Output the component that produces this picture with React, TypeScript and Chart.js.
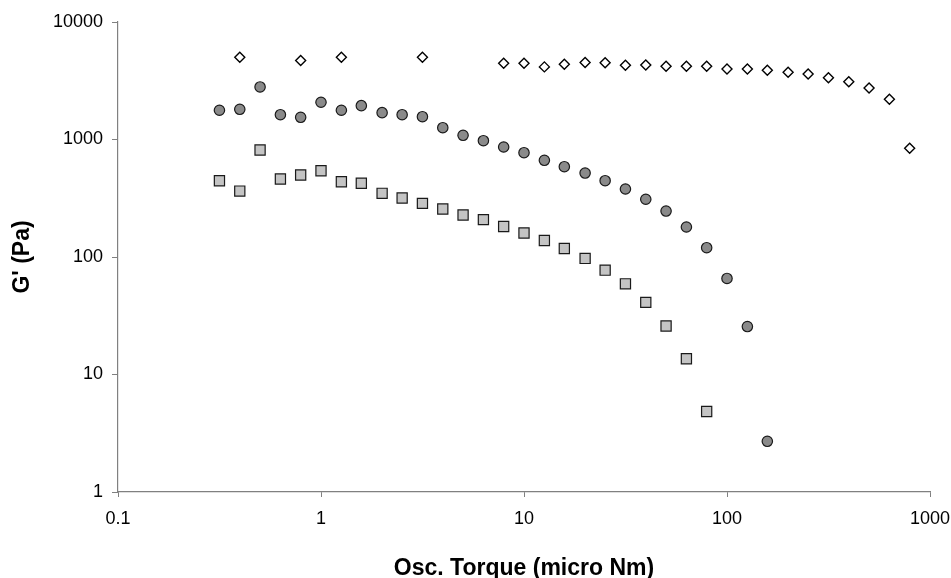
import React, { useEffect, useRef } from "react";
import { Chart, registerables } from "chart.js";

Chart.register(...registerables);

// Osc. torque (micro Nm) for each series
const circleTorque = [0.316, 0.398, 0.501, 0.631, 0.794, 1, 1.26, 1.58, 2, 2.51, 3.16, 3.98, 5.01, 6.31, 7.94, 10, 12.6, 15.8, 20, 25.1, 31.6, 39.8, 50.1, 63.1, 79.4, 100, 126, 158];
const circleG = [1774, 1808, 2800, 1626, 1545, 2075, 1774, 1941, 1692, 1626, 1563, 1260, 1086, 977, 863, 772, 665, 587, 518, 446, 379, 310, 246, 180, 120, 65.7, 25.6, 2.7];

const squareTorque = [0.316, 0.398, 0.501, 0.631, 0.794, 1, 1.26, 1.58, 2, 2.51, 3.16, 3.98, 5.01, 6.31, 7.94, 10, 12.6, 15.8, 20, 25.1, 31.6, 39.8, 50.1, 63.1, 79.4];
const squareG = [446, 364, 814, 461, 499, 542, 437, 424, 348, 318, 286, 256, 228, 208, 182, 160, 138, 118, 97.3, 77.3, 59.1, 41.1, 25.9, 13.6, 4.84];

const diamondTorque = [0.398, 0.794, 1.26, 3.16, 7.94, 10, 12.6, 15.8, 20, 25.1, 31.6, 39.8, 50.1, 63.1, 79.4, 100, 126, 158, 200, 251, 316, 398, 501, 631, 794];
const diamondG = [5012, 4693, 5012, 5012, 4459, 4459, 4150, 4371, 4513, 4490, 4276, 4310, 4200, 4200, 4200, 3985, 3985, 3883, 3732, 3613, 3360, 3105, 2746, 2198, 841];

const xTicks = [0.1, 1, 10, 100, 1000];
const yTicks = [1, 10, 100, 1000, 10000];

const xTitle = "Osc. Torque (micro Nm)";
const yTitle = "G' (Pa)";

const FONT = "'Liberation Sans', Arial, sans-serif";

function toPoints(xs: number[], ys: number[]) {
  return xs.map((x, i) => ({ x, y: ys[i] }));
}

export default function App() {
  const ref = useRef<HTMLCanvasElement | null>(null);

  useEffect(() => {
    if (!ref.current) return;
    const chart = new Chart(ref.current, {
      type: "scatter",
      data: {
        datasets: [
          {
            label: "diamonds",
            data: toPoints(diamondTorque, diamondG),
            pointStyle: "rectRot",
            pointRadius: 5,
            backgroundColor: "#ffffff",
            borderColor: "#000000",
            borderWidth: 1.4,
          },
          {
            label: "circles",
            data: toPoints(circleTorque, circleG),
            pointStyle: "circle",
            pointRadius: 5.2,
            backgroundColor: "#8a8a8a",
            borderColor: "#1a1a1a",
            borderWidth: 1.2,
          },
          {
            label: "squares",
            data: toPoints(squareTorque, squareG),
            pointStyle: "rect",
            pointRadius: 7.2,
            backgroundColor: "#c4c4c4",
            borderColor: "#1a1a1a",
            borderWidth: 1.2,
          },
        ],
      },
      options: {
        animation: false,
        responsive: false,
        maintainAspectRatio: false,
        layout: { padding: { top: 22, right: 21, left: 0, bottom: 0 } },
        plugins: { legend: { display: false }, tooltip: { enabled: false } },
        scales: {
          x: {
            type: "logarithmic",
            min: 0.1,
            max: 1000,
            afterBuildTicks: (s: any) => {
              s.ticks = xTicks.map((v) => ({ value: v }));
            },
            afterFit: (s: any) => {
              s.height = 86;
              s.paddingLeft = 0;
              s.paddingRight = 0;
            },
            ticks: {
              callback: (v: any) => String(v),
              color: "#000",
              font: { family: FONT, size: 18 },
              padding: 11,
              maxRotation: 0,
              autoSkip: false,
            },
            grid: { drawOnChartArea: false, drawTicks: true, tickLength: 5, color: "#808080" },
            border: { color: "#808080", width: 1.2 },
            title: {
              display: true,
              text: xTitle,
              color: "#000",
              font: { family: FONT, size: 23, weight: "bold", lineHeight: 0.85 },
              padding: { top: 0, bottom: 0 },
            },
          },
          y: {
            type: "logarithmic",
            min: 1,
            max: 10000,
            afterBuildTicks: (s: any) => {
              s.ticks = yTicks.map((v) => ({ value: v }));
            },
            afterFit: (s: any) => {
              s.width = 118;
              s.paddingTop = 0;
              s.paddingBottom = 0;
            },
            ticks: {
              callback: (v: any) => String(v),
              color: "#000",
              font: { family: FONT, size: 18 },
              padding: 9,
              autoSkip: false,
            },
            grid: { drawOnChartArea: false, drawTicks: true, tickLength: 6, color: "#808080" },
            border: { color: "#808080", width: 1.2 },
            title: {
              display: true,
              text: yTitle,
              color: "#000",
              font: { family: FONT, size: 23, weight: "bold", lineHeight: 1 },
              padding: { top: 11, bottom: 0 },
            },
          },
        },
      },
    } as any);
    return () => chart.destroy();
  }, []);

  return (
    <div style={{ position: "fixed", left: 0, top: 0, width: 951, height: 578, background: "#fff" }}>
      <canvas ref={ref} width={951} height={578} style={{ width: 951, height: 578, display: "block" }} />
    </div>
  );
}
